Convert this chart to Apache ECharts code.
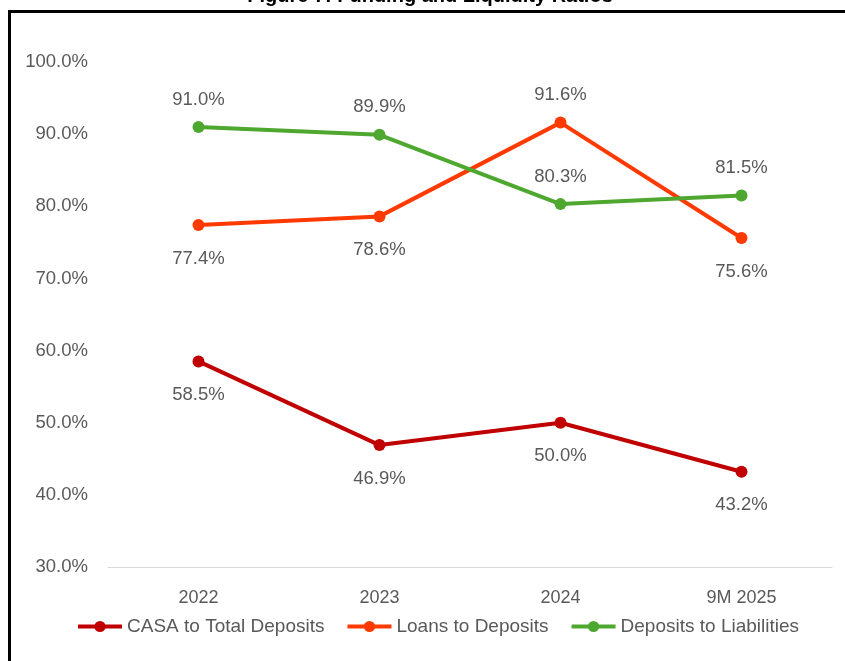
<!DOCTYPE html>
<html><head><meta charset="utf-8">
<script src="https://cdn.jsdelivr.net/npm/echarts@6/dist/echarts.min.js"></script>
<style>html,body{margin:0;padding:0;background:#fff}#c{width:845px;height:661px}</style>
</head><body><div id="c"></div>
<script>
const categories = ['2022', '2023', '2024', '9M 2025'];
const casaToTotalDeposits = [58.5, 46.9, 50.0, 43.2];
const loansToDeposits = [77.4, 78.6, 91.6, 75.6];
const depositsToLiabilities = [91.0, 89.9, 80.3, 81.5];
const loansLabelPos = ['bottom', 'bottom', 'top', 'bottom'];
const titleText = 'Figure 7: Funding and Liquidity Ratios';

const chart = echarts.init(document.getElementById('c'));
const FONT = 'Liberation Sans, Arial, sans-serif';
function mk(name, data, color, pos) {
  return {
    name, type: 'line',
    data: data.map((v, i) => {
      const p = Array.isArray(pos) ? pos[i] : pos;
      return { value: v, label: { position: p, distance: p === 'top' ? 12 : 18 } };
    }),
    symbol: 'circle', symbolSize: 12, lineStyle: { width: 4, color }, itemStyle: { color },
    label: { show: true, formatter: p => p.value.toFixed(1) + '%', fontSize: 18.5, color: '#595959', fontFamily: FONT }
  };
}
chart.setOption({
  animation: false,
  grid: { left: 108, right: 13, top: 62, bottom: 94 },
  legend: {
    bottom: 20, left: 71, itemWidth: 44, itemHeight: 14, itemGap: 21,
    lineStyle: { width: 4 },
    textStyle: { fontSize: 19, color: '#595959', fontFamily: FONT },
    data: ['CASA to Total Deposits', 'Loans to Deposits', 'Deposits to Liabilities']
  },
  xAxis: {
    type: 'category', data: categories,
    axisLine: { lineStyle: { color: '#d9d9d9', width: 1 } }, axisTick: { show: false },
    axisLabel: { fontSize: 18, color: '#595959', margin: 22, fontFamily: FONT }
  },
  yAxis: {
    type: 'value', min: 30, max: 100, interval: 10,
    axisLine: { show: false }, axisTick: { show: false }, splitLine: { show: false },
    axisLabel: { fontSize: 18.5, color: '#595959', margin: 20, formatter: v => v.toFixed(1) + '%', fontFamily: FONT }
  },
  series: [
    mk('CASA to Total Deposits', casaToTotalDeposits, '#C00000', 'bottom'),
    mk('Loans to Deposits', loansToDeposits, '#FF3A00', loansLabelPos),
    mk('Deposits to Liabilities', depositsToLiabilities, '#4EA72E', 'top')
  ],
  graphic: [
    { type: 'rect', shape: { x: 9.5, y: 11.5, width: 900, height: 700 }, style: { fill: null, stroke: '#000', lineWidth: 3 } },
    { type: 'text', x: 430, y: 6, style: { text: titleText, font: 'bold 20px "Liberation Sans", Arial', fill: '#000', textAlign: 'center', textVerticalAlign: 'bottom' } }
  ]
});
</script></body></html>
